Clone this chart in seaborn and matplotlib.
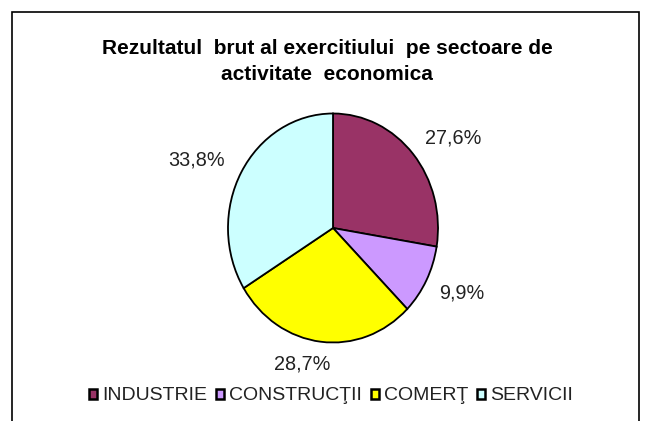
import matplotlib
matplotlib.use("Agg")
import matplotlib.pyplot as plt
from matplotlib.patches import Rectangle
import seaborn as sns

# ---- data ----
categories = ["INDUSTRIE", "CONSTRUCŢII", "COMERŢ", "SERVICII"]
values = [27.6, 9.9, 28.7, 33.8]
title_lines = ["Rezultatul  brut al exercitiului  pe sectoare de", "activitate  economica"]
hex_colors = ["#993366", "#CC99FF", "#FFFF00", "#CCFFFF"]

# ---- layout / style ----
label_pos = [(1.14, 0.79), (1.23, -0.57), (-0.29, -1.19), (-1.30, 0.59)]

sns.set_theme(style="white")
plt.rcParams["font.family"] = ["Liberation Sans", "DejaVu Sans"]
palette = sns.color_palette(hex_colors)

W, H = 645, 421
fig = plt.figure(figsize=(W / 100, H / 100), dpi=100)
fig.patch.set_facecolor("white")

# outer frame (cut by bottom of image)
fig.add_artist(Rectangle((11.5 / W, -0.05), (639 - 11.5) / W, (H - 11.5) / H + 0.05,
                         transform=fig.transFigure, fill=False, edgecolor="black",
                         linewidth=1.2))

cx, cy, rx, ry = 333, 228, 105, 114.5
ax = fig.add_axes([(cx - rx) / W, (H - cy - ry) / H, 2 * rx / W, 2 * ry / H])
wedges, _ = ax.pie(values, colors=palette, startangle=90, counterclock=False,
                   wedgeprops=dict(edgecolor="black", linewidth=1.3))
for w in wedges:
    w.set_clip_on(False)
ax.set_xlim(-1, 1)
ax.set_ylim(-1, 1)
ax.set_aspect("auto")
ax.axis("off")

for v, (x, y) in zip(values, label_pos):
    ax.text(x, y, f"{v:.1f}".replace(".", ",") + "%", ha="center", va="center",
            fontsize=14.3, color="#222222")

fig.text(327 / W, 1 - 54 / H, title_lines[0], ha="center", va="baseline",
         fontsize=15, fontweight="bold", color="black")
fig.text(327 / W, 1 - 80 / H, title_lines[1], ha="center", va="baseline",
         fontsize=15, fontweight="bold", color="black")

leg = fig.legend(handles=wedges, labels=categories, loc="center",
                 bbox_to_anchor=(331 / W, 1 - 396 / H), ncol=4, frameon=False,
                 fontsize=14, handlelength=0.42, handleheight=0.42, handletextpad=0.25,
                 columnspacing=0.45, borderaxespad=0, labelcolor="#222222")
for h in leg.legend_handles:
    h.set_linewidth(1.8)

fig.savefig("out.png", dpi=100)
